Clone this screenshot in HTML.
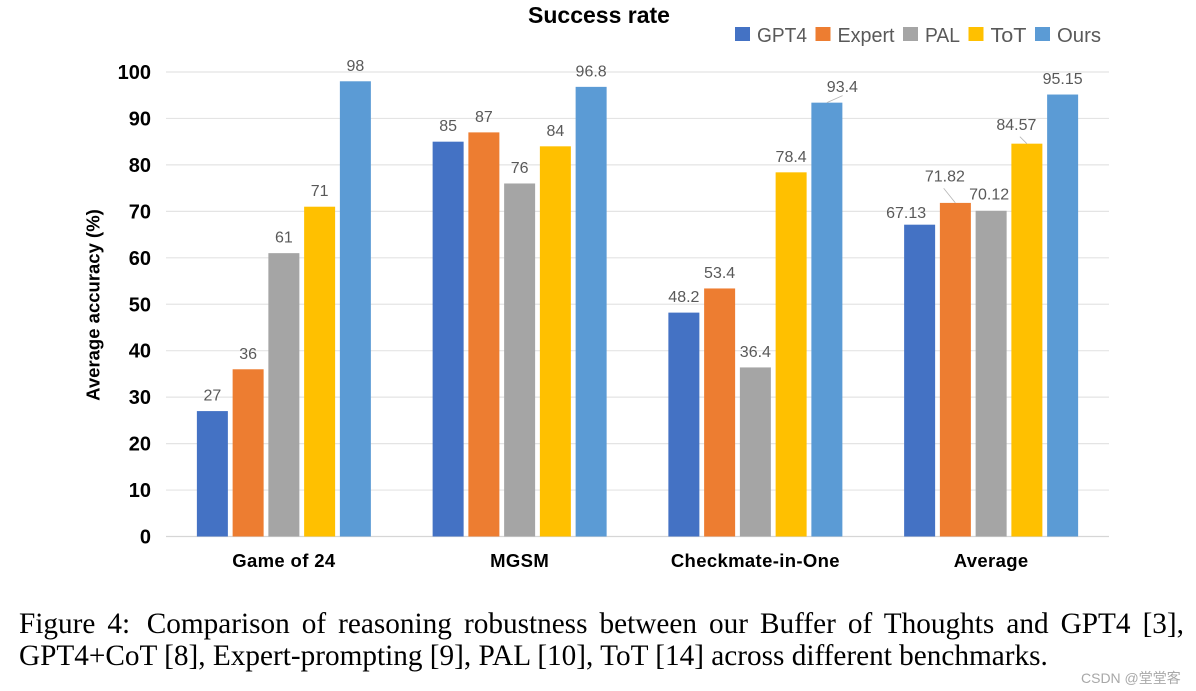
<!DOCTYPE html>
<html lang="en">
<head>
<meta charset="utf-8">
<title>Success rate chart</title>
<style>
html,body{margin:0;padding:0;background:#fff;}
#page{position:relative;width:1196px;height:691px;overflow:hidden;background:#fff;}
svg{position:absolute;left:0;top:0;}
text{font-family:"Liberation Sans",sans-serif;}
.cap{position:absolute;left:19px;width:1165px;font-family:"Liberation Serif",serif;font-size:29.26px;line-height:32px;color:#000;white-space:nowrap;}
#cap1{top:608px;text-align:justify;text-align-last:justify;white-space:normal;}
#cap2{top:640px;}
#wm{position:absolute;left:1081px;top:669px;font-family:"Liberation Sans","Noto Sans CJK SC",sans-serif;font-size:14px;line-height:18px;color:#a8a8a8;white-space:nowrap;}
</style>
</head>
<body>
<div id="page">
<svg id="chart" width="1196" height="691" viewBox="0 0 1196 691"></svg>
<div class="cap" id="cap1"><span style="margin-right:4.5px">Figure 4:</span> Comparison of reasoning robustness between our Buffer of Thoughts and GPT4 [3],</div>
<div class="cap" id="cap2">GPT4+CoT [8], Expert-prompting [9], PAL [10], ToT [14] across different benchmarks.</div>
<div id="wm">CSDN @堂堂客</div>
</div>
<script>
const categories = ["Game of 24", "MGSM", "Checkmate-in-One", "Average"];
const seriesNames = ["GPT4", "Expert", "PAL", "ToT", "Ours"];
const gpt4Values = [27, 85, 48.2, 67.13];
const expertValues = [36, 87, 53.4, 71.82];
const palValues = [61, 76, 36.4, 70.12];
const totValues = [71, 84, 78.4, 84.57];
const oursValues = [98, 96.8, 93.4, 95.15];
const yTickLabels = [0, 10, 20, 30, 40, 50, 60, 70, 80, 90, 100];

const allSeries = [gpt4Values, expertValues, palValues, totValues, oursValues];
const colors = ["#4472c4", "#ed7d31", "#a5a5a5", "#ffc000", "#5b9bd5"];

const plotLeft = 166, plotRight = 1109, plotBottom = 536.5, plotTop = 72;
const NS = "http://www.w3.org/2000/svg";
const svg = document.getElementById("chart");

function yScale(v) { return plotBottom - (v / 100) * (plotBottom - plotTop); }
function groupCenter(c) { return plotLeft + (plotRight - plotLeft) * (c + 0.5) / categories.length; }
function barCenter(c, s) { return groupCenter(c) + (s - 2) * 35.75; }

function make(tag, attrs, text) {
  const el = document.createElementNS(NS, tag);
  for (const k in attrs) el.setAttribute(k, attrs[k]);
  if (text !== undefined) el.textContent = text;
  svg.appendChild(el);
  return el;
}

/* gridlines and y ticks */
yTickLabels.forEach(function (t) {
  const line = make("line", {x1: plotLeft, x2: plotRight, y1: yScale(t), y2: yScale(t), stroke: t === 0 ? "#d6d6d6" : "#e4e4e4", "stroke-width": 1.2});
  
  
  const lab = make("text", {x: 151, y: yScale(t) + 7, "text-anchor": "end", "font-size": 20, "font-weight": "bold", fill: "#000"}, String(t));
  
  
});

/* bars */
allSeries.forEach(function (vals, s) {
  vals.forEach(function (v, c) {
    const r = make("rect", {x: barCenter(c, s) - 15.5, y: yScale(v), width: 31, height: plotBottom - yScale(v), fill: colors[s]});
    
    
  });
});

/* label placement tweaks: moved labels carry a leader line, as in the source chart */
function labelShift(c, s) {
  if (c === 2 && s === 4) return {dx: 15.5, dy: 0, lx: 15.7, ly: -7};
  if (c === 3 && s === 1) return {dx: -10.5, dy: -11, lx: -11.7, ly: -14.7};
  if (c === 3 && s === 3) return {dx: -10.5, dy: -3, lx: -7, ly: -7};
  if (c === 3 && s === 0) return {dx: -13.5, dy: 4};
  if (c === 3 && s === 2) return {dx: -2, dy: -1};
  return {dx: 0, dy: 0};
}

allSeries.forEach(function (vals, s) {
  vals.forEach(function (v, c) {
    const sh = labelShift(c, s);
    const cx = barCenter(c, s), top = yScale(v);
    const tx = cx + sh.dx, ty = top - 10.5 + sh.dy;
    if (sh.lx !== undefined) {
      const l = make("line", {x1: cx, y1: top, x2: cx + sh.lx, y2: top + sh.ly, stroke: "#b5b5b5", "stroke-width": 0.8});
      
      
    }
    const t = make("text", {x: tx, y: ty, "text-anchor": "middle", "font-size": 16, fill: "#595959"}, String(v));
    
    
  });
});

/* category labels */
categories.forEach(function (name, c) {
  const t = make("text", {x: groupCenter(c), y: 567, "text-anchor": "middle", "font-size": 18.5, "letter-spacing": 0.35, "font-weight": "bold", fill: "#000"}, name);
  
  
});

/* titles */
const title = make("text", {x: 599, y: 23, "text-anchor": "middle", "font-size": 23, "font-weight": "bold", fill: "#000"}, "Success rate");



const yTitle = make("text", {x: 0, y: 0, transform: "translate(99.5 305) rotate(-90)", "text-anchor": "middle", "font-size": 18.5, "font-weight": "bold", fill: "#000"}, "Average accuracy (%)");



/* legend: entries flow left to right */
let legendX = 735;
const legendTextSpan = {GPT4: 50, Expert: 57, PAL: 35, ToT: 36, Ours: 44};
seriesNames.forEach(function (name, s) {
  const sw = make("rect", {x: legendX, y: 27, width: 15, height: 14, fill: colors[s]});
  
  
  const t = make("text", {x: legendX + 22, y: 42, "font-size": 20, fill: "#595959", textLength: legendTextSpan[name], lengthAdjust: "spacingAndGlyphs"}, name);
  
  
  legendX += 22 + legendTextSpan[name] + 8.5;
});
</script>
</body>
</html>
